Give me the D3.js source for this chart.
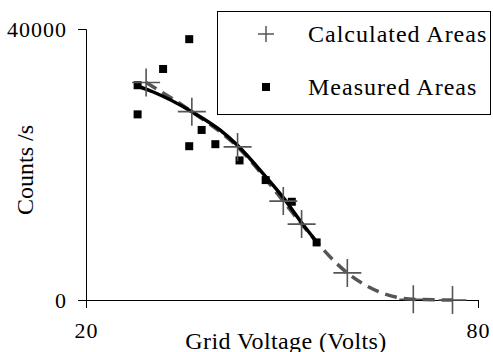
<!DOCTYPE html>
<html>
<head>
<meta charset="utf-8">
<script src="https://cdn.jsdelivr.net/npm/d3@7"></script>
<style>
  body { margin: 0; background: #fff; }
  svg text { font-family: "Liberation Serif", "DejaVu Serif", serif; fill: #000; }
</style>
</head>
<body>
<div id="chart"></div>
<script>
/* values */
var calcX = [29.2, 36.2, 43.2, 50.2, 53.0, 60.0, 70.1, 76.1],
    calcY = [32100, 27800, 22600, 14600, 11200, 4000, 100, 0];

var measX = [27.9, 27.9, 31.8, 35.8, 35.8, 37.7, 39.8, 43.5, 47.5, 51.5, 55.3],
    measY = [27400, 31700, 34100, 38500, 22700, 25100, 23000, 20600, 17700, 14500, 8500];

var fitX = [27.5, 30.3, 36.2, 40.5, 43.1, 47.5, 50.2, 53.0, 55.3],
    fitY = [31700, 30700, 27800, 25100, 22900, 18200, 15100, 11400, 8600];

var xTicks = [20, 80],
    yTicks = [0, 40000];

var xLabel = "Grid Voltage (Volts)",
    yLabel = "Counts /s",
    legendNames = ["Calculated Areas", "Measured Areas"];

var width = 493, height = 352;
var margin = {top: 29, left: 86, right: 15, bottom: 52};

var x = d3.scaleLinear().domain([20, 80]).range([margin.left, 478]);
var y = d3.scaleLinear().domain([0, 40000]).range([300, margin.top]);

var svg = d3.select("#chart")
    .append("svg")
    .attr("width", width)
    .attr("height", height);

/* axes */
var yAxis = d3.axisLeft(y).tickValues(yTicks).tickSize(8).tickPadding(11).tickFormat(d3.format("d"));
var xAxis = d3.axisBottom(x).tickValues(xTicks).tickSize(8).tickPadding(14).tickFormat(d3.format("d"));

var gy = svg.append("g")
    .attr("transform", "translate(" + margin.left + ",0)")
    .call(yAxis);
var gx = svg.append("g")
    .attr("transform", "translate(0,300)")
    .call(xAxis);

[gx, gy].forEach(function(g) {
  g.attr("font-family", null);
  g.select(".domain").attr("stroke", "#000").attr("stroke-width", 1);
  g.selectAll(".tick line").attr("stroke", "#000");
  g.selectAll(".tick text")
      .attr("font-size", 22)
      .attr("letter-spacing", 1)
      .attr("fill", "#000");
});

/* dashed calculated curve */
var calc = calcX.map(function(d, i) { return [d, calcY[i]]; });
var line = d3.line()
    .x(function(d) { return x(d[0]); })
    .y(function(d) { return y(d[1]); })
    .curve(d3.curveMonotoneX);

svg.append("path")
    .datum(calc)
    .attr("fill", "none")
    .attr("stroke", "#555")
    .attr("stroke-width", 3.5)
    .attr("stroke-dasharray", "12,7")
    .attr("d", line);

/* solid fit through measured */
svg.append("path")
    .datum(fitX.map(function(d, i) { return [d, fitY[i]]; }))
    .attr("fill", "none")
    .attr("stroke", "#000")
    .attr("stroke-width", 3.5)
    .attr("d", line);

/* measured squares */
var sq = 8;
svg.append("g")
    .selectAll("rect")
    .data(measX.map(function(d, i) { return [d, measY[i]]; }))
    .enter().append("rect")
        .attr("x", function(d) { return x(d[0]) - sq / 2; })
        .attr("y", function(d) { return y(d[1]) - sq / 2; })
        .attr("width", sq)
        .attr("height", sq)
        .attr("fill", "#000");

/* calculated pluses */
var arm = 14;
var plus = svg.append("g")
    .selectAll("g")
    .data(calc)
    .enter().append("g")
        .attr("transform", function(d) { return "translate(" + x(d[0]) + "," + y(d[1]) + ")"; });
plus.append("path")
    .attr("d", "M" + -arm + ",0H" + arm + "M0," + -arm + "V" + arm)
    .attr("stroke", "#555")
    .attr("stroke-width", 1.6);

/* axis labels */
svg.append("text")
    .attr("x", 286)
    .attr("y", 349)
    .attr("text-anchor", "middle")
    .attr("font-size", 24)
    .attr("letter-spacing", 0.4)
    .text(xLabel);

svg.append("text")
    .attr("transform", "translate(33,170)rotate(-90)")
    .attr("text-anchor", "middle")
    .attr("font-size", 24)
    .text(yLabel);

/* legend */
var legend = svg.append("g").attr("class", "legend");
legend.append("rect")
    .attr("x", 217.5)
    .attr("y", 11.5)
    .attr("width", 273)
    .attr("height", 103)
    .attr("fill", "#fff")
    .attr("stroke", "#000")
    .attr("stroke-width", 1);

var item = legend.selectAll("g")
    .data(legendNames)
    .enter().append("g")
        .attr("transform", function(d, i) { return "translate(266," + (34 + i * 53) + ")"; });

item.append("text")
    .attr("x", 42)
    .attr("y", 8)
    .attr("font-size", 24)
    .attr("letter-spacing", 1)
    .text(function(d) { return d; });

item.filter(function(d, i) { return i === 0; })
    .append("path")
    .attr("d", "M-8,0H8M0,-8V8")
    .attr("stroke", "#555")
    .attr("stroke-width", 1.5);

item.filter(function(d, i) { return i === 1; })
    .append("rect")
    .attr("x", -4)
    .attr("y", -4)
    .attr("width", 8)
    .attr("height", 8)
    .attr("fill", "#000");
</script>
</body>
</html>
